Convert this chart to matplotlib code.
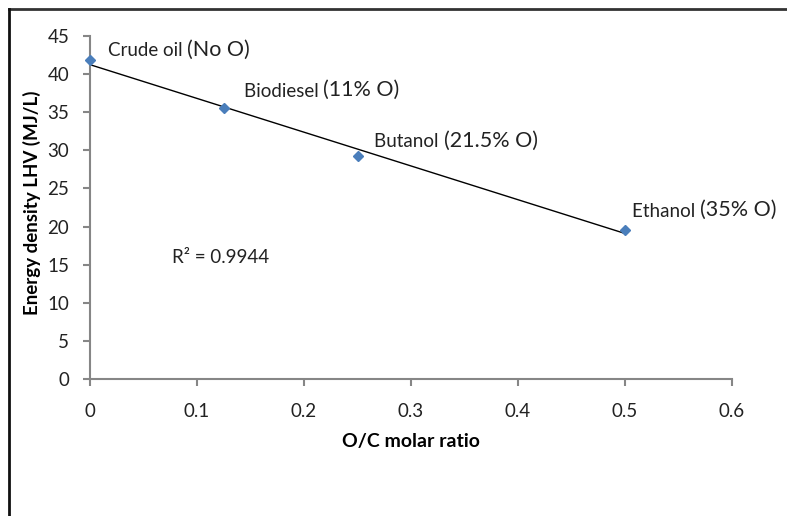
import numpy as np
import matplotlib
matplotlib.use("Agg")
from matplotlib import pyplot as plt
from matplotlib.lines import Line2D

plt.rcParams['font.family'] = ['Lato', 'DejaVu Sans']

# data
oc_ratio = [0.0, 0.125, 0.25, 0.5]
lhv = [41.8, 35.6, 29.2, 19.6]
names = ["Crude oil ", "Biodiesel ", "Butanol ", "Ethanol "]
oxygen = ["(No O)", "(11% O)", "(21.5% O)", "(35% O)"]
label_offsets = [(18, 4), (20, 11), (17, 9), (7, 13)]  # pixels
r2_text = "R² = 0.9944"

AXIS_GREY = "#868686"
BLUE = "#4A7EBB"
TEXT = "#222222"

fig = plt.figure(figsize=(7.87, 5.16), dpi=100)
ax = fig.add_axes([90 / 787, 1 - 379 / 516, (732 - 90) / 787, (379 - 36) / 516])

# linear trendline (Excel style) over the data range
slope, intercept = np.polyfit(oc_ratio, lhv, 1)
xs = np.array([min(oc_ratio), max(oc_ratio)])
ax.plot(xs, slope * xs + intercept, color="black", lw=1.0, zorder=2)

ax.plot(oc_ratio, lhv, linestyle="none", marker="D", markersize=5,
        color=BLUE, zorder=3, clip_on=False)

for x, y, n, o, off in zip(oc_ratio, lhv, names, oxygen, label_offsets):
    t1 = ax.annotate(n, xy=(x, y), xytext=(off[0] * 0.72, off[1] * 0.72),
                     textcoords="offset points", fontsize=13.5, color=TEXT,
                     ha="left", va="baseline")
    ax.annotate(o, xy=(1, 0), xycoords=t1, xytext=(0, 0),
                textcoords="offset points", fontsize=15.5, color=TEXT,
                ha="left", va="bottom")

ax.text(172, 516 - 263, r2_text, transform=None, fontsize=13.5,
        color=TEXT, ha="left", va="baseline")

ax.set_xlim(0, 0.6)
ax.set_ylim(0, 45)
ax.set_xticks(np.arange(0, 0.61, 0.1))
ax.set_xticklabels(["0", "0.1", "0.2", "0.3", "0.4", "0.5", "0.6"])
ax.set_yticks(np.arange(0, 46, 5))

for side in ["top", "right"]:
    ax.spines[side].set_visible(False)
for side in ["left", "bottom"]:
    ax.spines[side].set_color(AXIS_GREY)
    ax.spines[side].set_linewidth(1.5)
ax.tick_params(direction="out", length=5, width=1.5, color=AXIS_GREY,
               labelsize=13.5, labelcolor=TEXT)
ax.tick_params(axis="x", pad=12)
ax.tick_params(axis="y", pad=10)

ax.set_xlabel("O/C molar ratio", fontsize=14, fontweight="bold", labelpad=10)
ax.set_ylabel("Energy density LHV (MJ/L)", fontsize=13.5, fontweight="bold")
ax.yaxis.set_label_coords(-0.077, 0.513)

# cropped chart frame: top and left edges only
fig.add_artist(Line2D([9 / 787, 1], [1 - 9 / 516, 1 - 9 / 516],
                      transform=fig.transFigure, color="#333333", lw=2))
fig.add_artist(Line2D([9 / 787, 9 / 787], [0, 1 - 9 / 516],
                      transform=fig.transFigure, color="#111111", lw=2))

fig.savefig("out.png", dpi=100)
